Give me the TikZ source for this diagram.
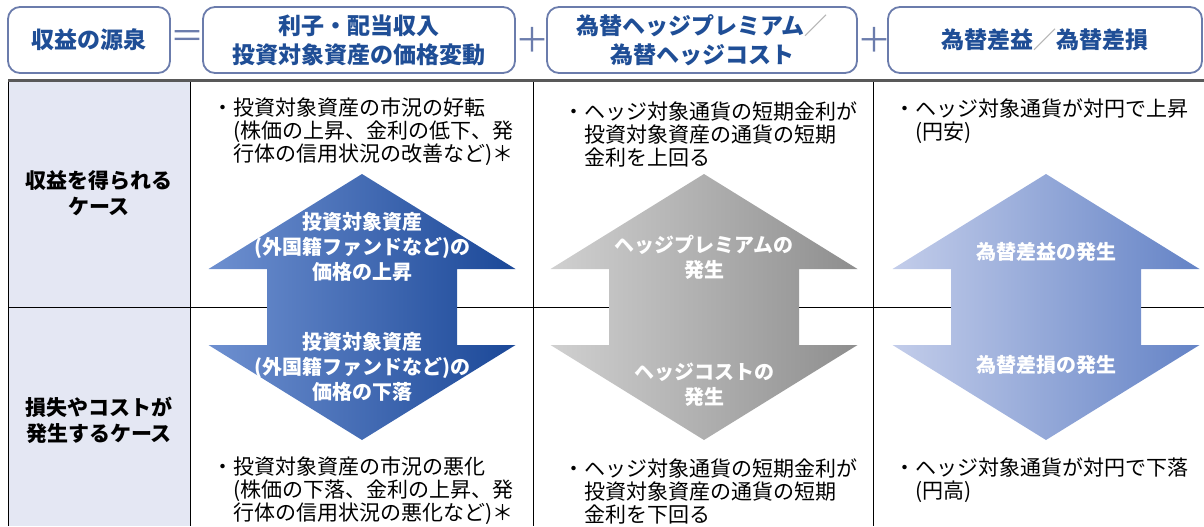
\documentclass[tikz,border=0pt]{standalone}
\usepackage{fontspec}
\setmainfont{Noto Sans CJK JP}
\definecolor{hdrblue}{HTML}{1F4E96}
\definecolor{hdrline}{HTML}{6B7CAC}
\definecolor{leftbg}{HTML}{E4E7F3}
\begin{document}
\begin{tikzpicture}[x=0.5pt, y=-0.5pt,
    hdr/.style = {draw=hdrline, line width=0.9pt, rounded corners=6pt, fill=white, minimum height=33pt, inner sep=0pt,
                  text=hdrblue, align=center, font=\fontsize{11.5}{14.5}\selectfont\bfseries},
    op/.style = {text=hdrline, inner sep=0pt, font=\fontsize{17}{17}\selectfont},
    note/.style = {anchor=west, align=left, inner sep=0pt, font=\fontsize{10.5}{11.5}\selectfont},
    case/.style = {align=center, inner sep=0pt, font=\fontsize{10.5}{13}\selectfont\bfseries},
    arr/.style = {text=white, align=center, inner sep=0pt, font=\fontsize{10}{12.5}\selectfont\bfseries}]
    \useasboundingbox (0,0) rectangle (1204,526);
    \fill[leftbg] (8,80) rectangle (190,526);
    \draw (8,307) -- (1204,307);
    \foreach \x in {8,190,533,873} \draw (\x,80) -- (\x,526);
    \draw[line width=1.5pt, black!65] (8,80) -- (1204,80);
    \foreach \cx/\lc/\mc/\rc in {362/{rgb,255:red,110;green,144;blue,208}/{rgb,255:red,62;green,104;blue,182}/{rgb,255:red,27;green,72;blue,152},
                                 704/{rgb,255:red,208;green,208;blue,208}/{rgb,255:red,166;green,166;blue,166}/{rgb,255:red,142;green,142;blue,142},
                                 1046/{rgb,255:red,195;green,205;blue,234}/{rgb,255:red,154;green,174;blue,219}/{rgb,255:red,100;green,131;blue,198}}
        \path[left color=\lc, middle color=\mc, right color=\rc] (\cx,174) -- ++(153.5,95) -- ++(-58.5,0) -- ++(0,76) -- ++(58.5,0)
            -- (\cx,440) -- ++(-153.5,-95) -- ++(58.5,0) -- ++(0,-76) -- ++(-58.5,0) -- cycle;
    \node[hdr, minimum width=81pt] (src) at (89,40) {収益の源泉};
    \node[hdr, minimum width=156pt] (inc) at (359,40) {利子・配当収入\\投資対象資産の価格変動};
    \node[hdr, minimum width=155pt] (hedge) at (702,40) {為替ヘッジプレミアム{\color{black!30}／}\\為替ヘッジコスト};
    \node[hdr, minimum width=157pt] (fx) at (1045,40) {為替差益{\color{black!30}／}為替差損};
    \node[op] (eq) at (187,40) {＝};
    \node[op] (plusA) at (532,40) {＋};
    \node[op] (plusB) at (874,40) {＋};
    \node[case] (gain) at (99,193) {収益を得られる\\ケース};
    \node[case] (loss) at (99,420) {損失やコストが\\発生するケース};
    \node[note] (incGain) at (233,132) {\llap{・}投資対象資産の市況の好転\\(株価の上昇、金利の低下、発\\行体の信用状況の改善など)＊};
    \node[note] (hedgeGain) at (584,134) {\llap{・}ヘッジ対象通貨の短期金利が\\投資対象資産の通貨の短期\\金利を上回る};
    \node[note] (fxGain) at (915,121) {\llap{・}ヘッジ対象通貨が対円で上昇\\(円安)};
    \node[note] (incLoss) at (233,491) {\llap{・}投資対象資産の市況の悪化\\(株価の下落、金利の上昇、発\\行体の信用状況の悪化など)＊};
    \node[note] (hedgeLoss) at (584,491) {\llap{・}ヘッジ対象通貨の短期金利が\\投資対象資産の通貨の短期\\金利を下回る};
    \node[note] (fxLoss) at (915,480) {\llap{・}ヘッジ対象通貨が対円で下落\\(円高)};
    \node[arr] (incUp) at (362,247) {投資対象資産\\(外国籍ファンドなど)の\\価格の上昇};
    \node[arr] (incDown) at (362,367) {投資対象資産\\(外国籍ファンドなど)の\\価格の下落};
    \node[arr] (hedgeUp) at (704,257) {ヘッジプレミアムの\\発生};
    \node[arr] (hedgeDown) at (704,385) {ヘッジコストの\\発生};
    \node[arr] (fxUp) at (1046,252) {為替差益の発生};
    \node[arr] (fxDown) at (1046,365) {為替差損の発生};
\end{tikzpicture}
\end{document}
